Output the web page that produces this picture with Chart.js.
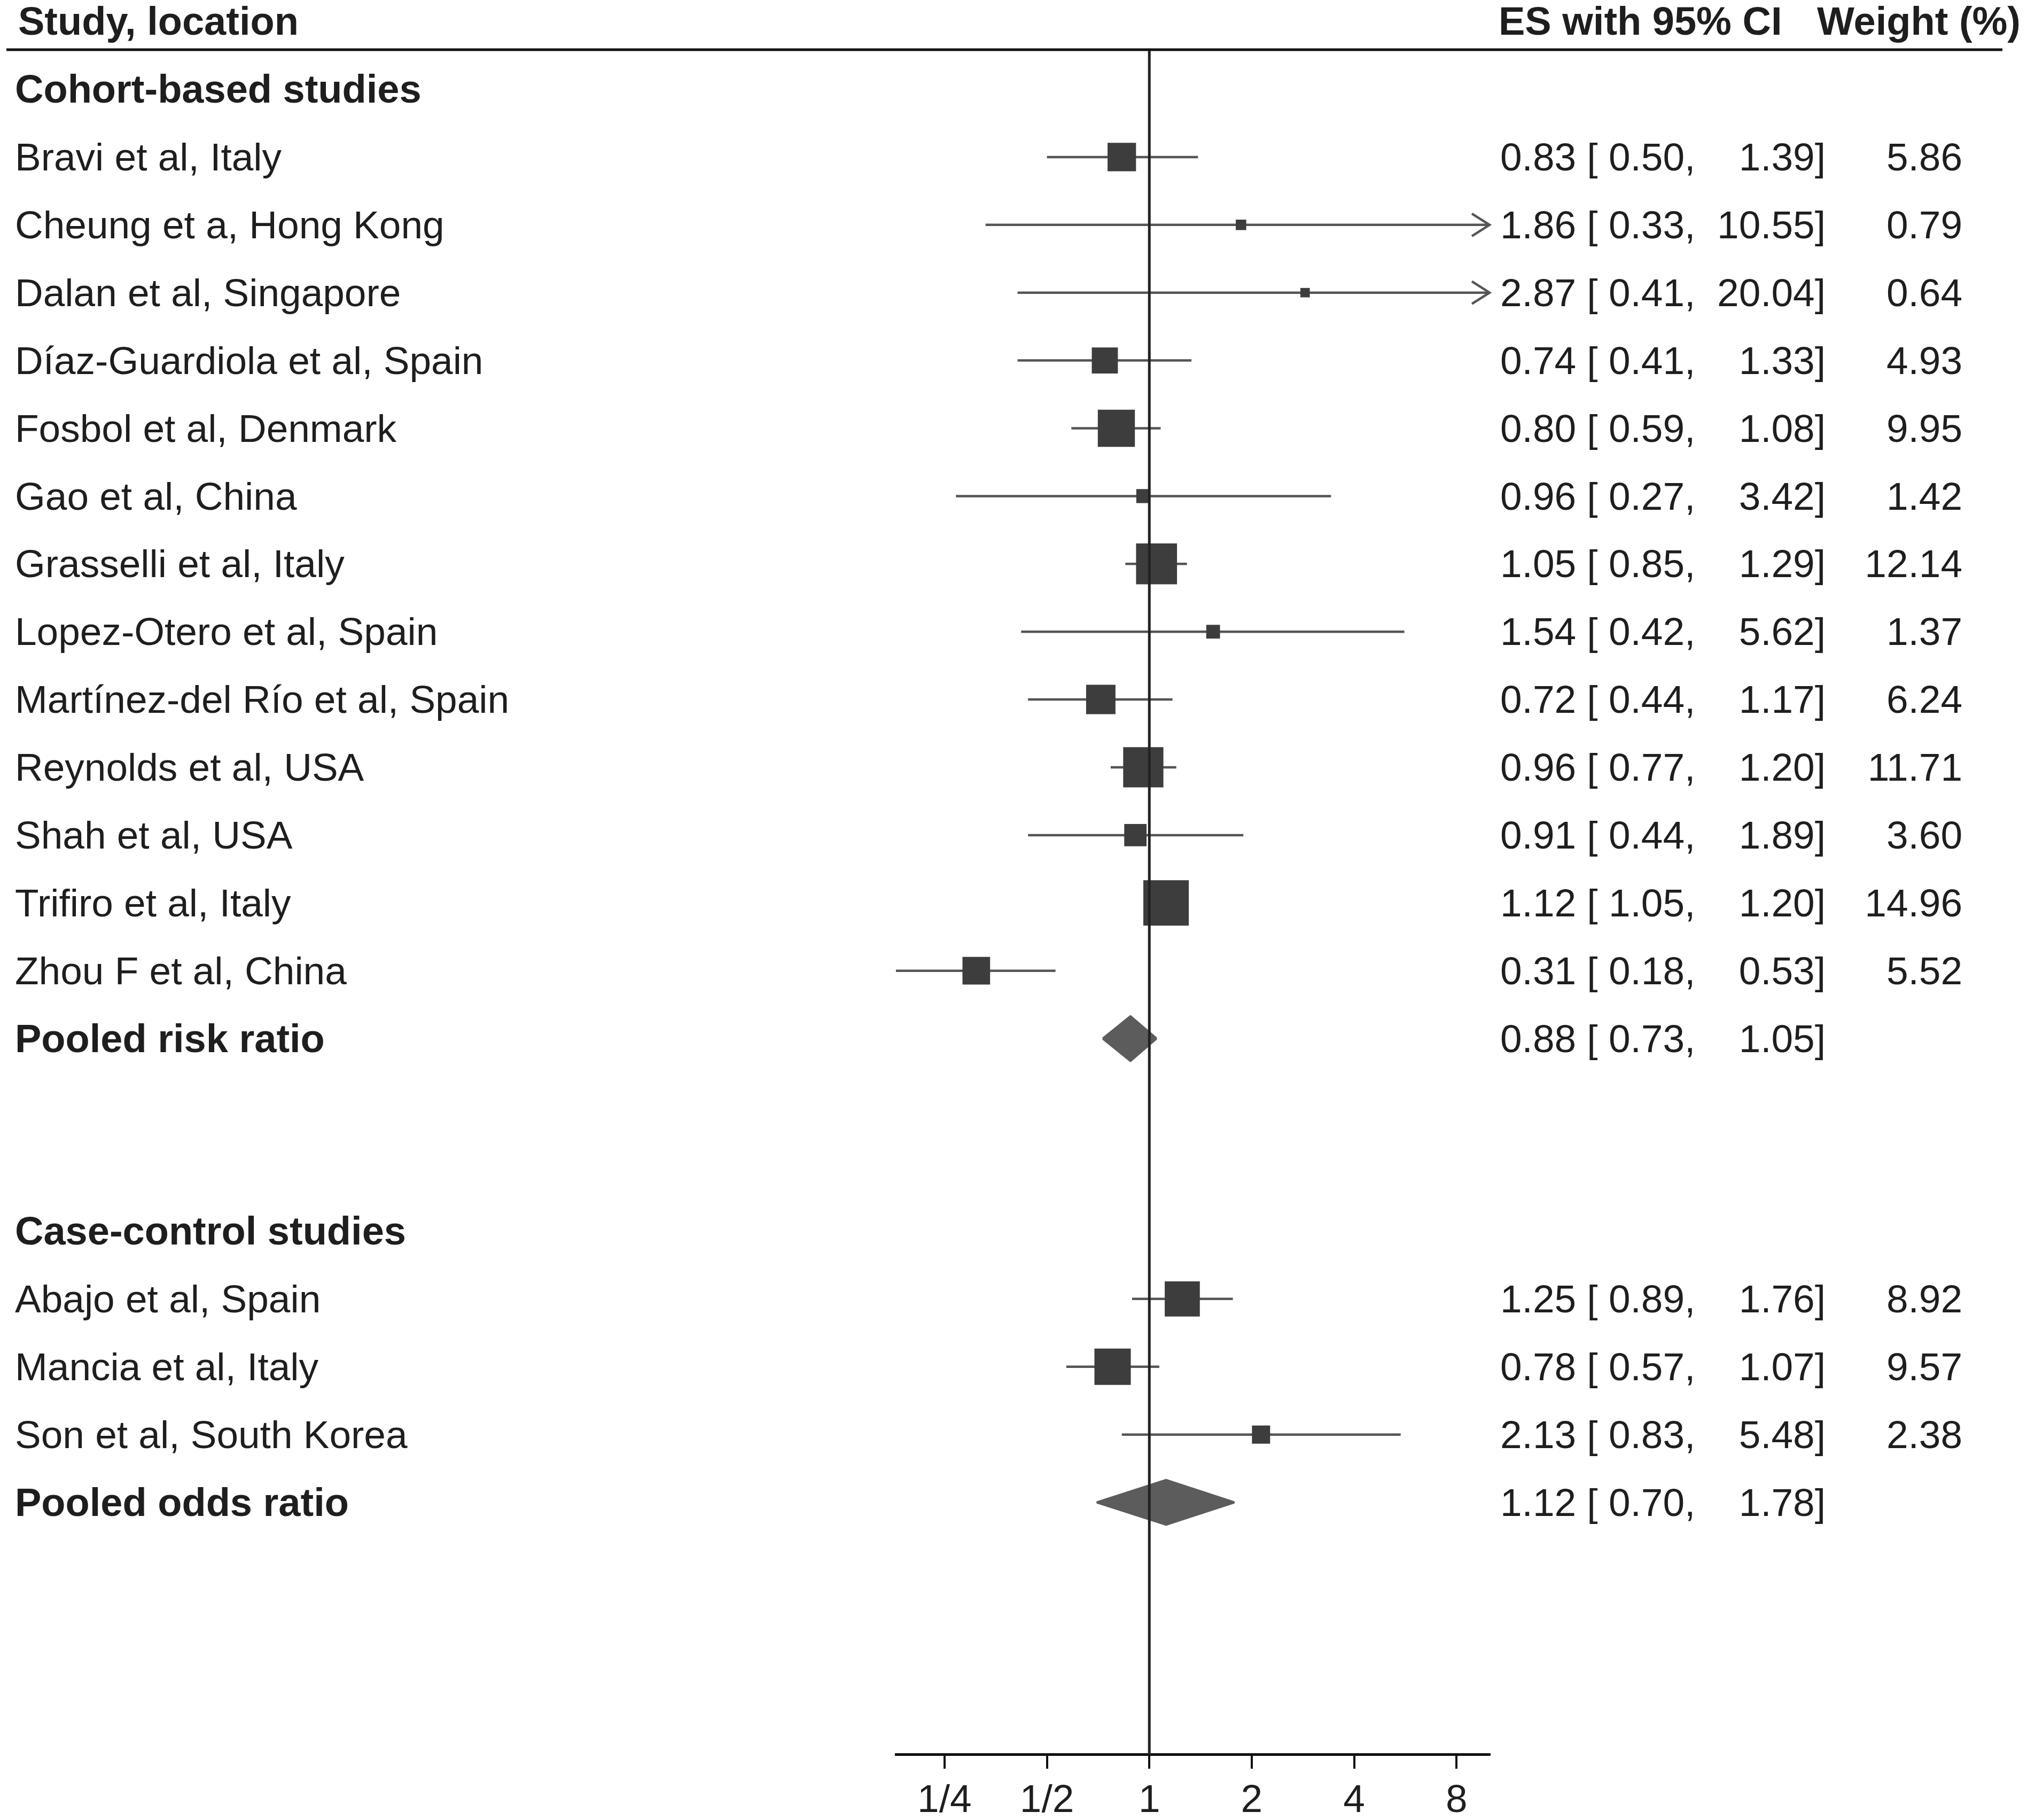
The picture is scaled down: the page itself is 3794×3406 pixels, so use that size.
<!DOCTYPE html>
<html>
<head>
<meta charset="utf-8">
<title>Forest plot</title>
<script src="https://cdn.jsdelivr.net/npm/chart.js@4.4.1/dist/chart.umd.min.js"></script>
<style>
  html, body { margin: 0; padding: 0; background: #fff; }
  canvas { display: block; }
</style>
</head>
<body>
<canvas id="forestChart" width="3794" height="3406"></canvas>
<script>
// Study rows: group 0 = cohort-based, group 1 = case-control
const studyLabels = [
    'Bravi et al, Italy',
    'Cheung et a, Hong Kong',
    'Dalan et al, Singapore',
    'Díaz-Guardiola et al, Spain',
    'Fosbol et al, Denmark',
    'Gao et al, China',
    'Grasselli et al, Italy',
    'Lopez-Otero et al, Spain',
    'Martínez-del Río et al, Spain',
    'Reynolds et al, USA',
    'Shah et al, USA',
    'Trifiro et al, Italy',
    'Zhou F et al, China',
    'Abajo et al, Spain',
    'Mancia et al, Italy',
    'Son et al, South Korea'
];
const studyGroups = [0, 0, 0, 0, 0, 0, 0, 0, 0, 0, 0, 0, 0, 1, 1, 1];
const studyES = [0.83, 1.86, 2.87, 0.74, 0.80, 0.96, 1.05, 1.54, 0.72, 0.96, 0.91, 1.12, 0.31, 1.25, 0.78, 2.13];
const studyLower = [0.50, 0.33, 0.41, 0.41, 0.59, 0.27, 0.85, 0.42, 0.44, 0.77, 0.44, 1.05, 0.18, 0.89, 0.57, 0.83];
const studyUpper = [1.39, 10.55, 20.04, 1.33, 1.08, 3.42, 1.29, 5.62, 1.17, 1.20, 1.89, 1.20, 0.53, 1.76, 1.07, 5.48];
const studyWeights = [5.86, 0.79, 0.64, 4.93, 9.95, 1.42, 12.14, 1.37, 6.24, 11.71, 3.60, 14.96, 5.52, 8.92, 9.57, 2.38];

const groupTitles = ['Cohort-based studies', 'Case-control studies'];
const pooledLabels = ['Pooled risk ratio', 'Pooled odds ratio'];
const pooledES = [0.88, 1.12];
const pooledLower = [0.73, 0.70];
const pooledUpper = [1.05, 1.78];

const tickValues = [0.25, 0.5, 1, 2, 4, 8];
const tickLabels = ['1/4', '1/2', '1', '2', '4', '8'];

// layout constants
const X_MIN = 0.18, X_MAX = 10;
const GROUP_GAP = 2.84;        // rows from a pooled line to the next group title
const ROW_TOP = -0.583;        // header rule
const ROW_BOTTOM = 24.555;     // x axis
const BOX_SCALE = 22;          // box side (px) per sqrt(weight)
const DIAMOND_HALF = 0.33;     // half height of the pooled diamond, in rows
const FONT = '"Liberation Sans", Arial, sans-serif';

// row index of every line in the table
const studyRows = [], titleRows = [], pooledRows = [];
let row = 0;
groupTitles.forEach((title, g) => {
    titleRows.push(row);
    row += 1;
    studyGroups.forEach((sg, i) => {
        if (sg === g) { studyRows[i] = row; row += 1; }
    });
    pooledRows.push(row);
    row += GROUP_GAP;
});

const datasets = [];

// reference line at 1 (drawn on top)
datasets.push({
    type: 'line',
    data: [{ x: 1, y: ROW_TOP }, { x: 1, y: ROW_BOTTOM }],
    borderColor: '#222',
    borderWidth: 5,
    pointRadius: 0,
    order: 0
});

// study boxes, area proportional to weight
datasets.push({
    type: 'scatter',
    data: studyES.map((v, i) => ({ x: v, y: studyRows[i] })),
    pointStyle: 'rect',
    pointRadius: ctx => BOX_SCALE * Math.sqrt(studyWeights[ctx.dataIndex]) / Math.SQRT2,
    backgroundColor: '#3d3d3d',
    borderWidth: 0,
    order: 1
});

// pooled diamonds: upper and lower edges, filled between
pooledES.forEach((v, g) => {
    const r = pooledRows[g];
    const upperIndex = datasets.length;
    datasets.push({
        type: 'line',
        data: [{ x: pooledLower[g], y: r }, { x: v, y: r - DIAMOND_HALF }, { x: pooledUpper[g], y: r }],
        borderColor: '#5c5c5c',
        borderWidth: 4,
        borderJoinStyle: 'round',
        pointRadius: 0,
        fill: false,
        order: 2
    });
    datasets.push({
        type: 'line',
        data: [{ x: pooledLower[g], y: r }, { x: v, y: r + DIAMOND_HALF }, { x: pooledUpper[g], y: r }],
        borderColor: '#5c5c5c',
        backgroundColor: '#5c5c5c',
        borderWidth: 4,
        borderJoinStyle: 'round',
        pointRadius: 0,
        fill: upperIndex,
        order: 2
    });
});

// confidence interval lines (clipped at the axis end)
studyES.forEach((v, i) => {
    datasets.push({
        type: 'line',
        data: [{ x: studyLower[i], y: studyRows[i] }, { x: Math.min(studyUpper[i], X_MAX), y: studyRows[i] }],
        borderColor: '#555',
        borderWidth: 4.5,
        borderCapStyle: 'butt',
        pointRadius: 0,
        order: 3
    });
});

function drawText(ctx, str, x, y, align, bold) {
    ctx.font = (bold ? 'bold 74px ' : '73px ') + FONT;
    ctx.textAlign = align;
    ctx.textBaseline = 'middle';
    ctx.fillStyle = '#1e1e1e';
    ctx.fillText(str, x, y + 5);
}

// table text, header rule and arrows for clipped intervals
const tablePlugin = {
    id: 'forestTable',
    beforeDraw(chart) {
        const ctx = chart.ctx;
        ctx.save();
        ctx.fillStyle = '#fff';
        ctx.fillRect(0, 0, chart.width, chart.height);
        ctx.restore();
    },
    afterDatasetsDraw(chart) {
        const ctx = chart.ctx;
        const xs = chart.scales.x, ys = chart.scales.y;
        ctx.save();
        ctx.strokeStyle = '#555';
        ctx.lineWidth = 4.5;
        studyUpper.forEach((hi, i) => {
            if (hi <= X_MAX) return;
            const tip = xs.getPixelForValue(X_MAX);
            const y = ys.getPixelForValue(studyRows[i]);
            ctx.beginPath();
            ctx.moveTo(tip - 33, y - 21);
            ctx.lineTo(tip, y);
            ctx.lineTo(tip - 33, y + 21);
            ctx.stroke();
        });
        ctx.restore();
    },
    afterDraw(chart) {
        const ctx = chart.ctx;
        const ys = chart.scales.y;
        const esX = 2808, upperX = 3417, weightX = 3673;
        ctx.save();

        // header
        const hy = ys.getPixelForValue(-1);
        drawText(ctx, 'Study, location', 34, hy, 'left', true);
        drawText(ctx, 'ES with 95% CI', 2805, hy, 'left', true);
        drawText(ctx, 'Weight (%)', 3782, hy, 'right', true);
        ctx.strokeStyle = '#111';
        ctx.lineWidth = 5;
        ctx.beginPath();
        const ry = ys.getPixelForValue(ROW_TOP);
        ctx.moveTo(12, ry);
        ctx.lineTo(3748, ry);
        ctx.stroke();

        groupTitles.forEach((t, g) => {
            drawText(ctx, t, 28, ys.getPixelForValue(titleRows[g]), 'left', true);
        });

        studyLabels.forEach((label, i) => {
            const y = ys.getPixelForValue(studyRows[i]);
            drawText(ctx, label, 28, y, 'left', false);
            drawText(ctx, studyES[i].toFixed(2) + ' [ ' + studyLower[i].toFixed(2) + ',', esX, y, 'left', false);
            drawText(ctx, studyUpper[i].toFixed(2) + ']', upperX, y, 'right', false);
            drawText(ctx, studyWeights[i].toFixed(2), weightX, y, 'right', false);
        });

        pooledLabels.forEach((label, g) => {
            const y = ys.getPixelForValue(pooledRows[g]);
            drawText(ctx, label, 28, y, 'left', true);
            drawText(ctx, pooledES[g].toFixed(2) + ' [ ' + pooledLower[g].toFixed(2) + ',', esX, y, 'left', false);
            drawText(ctx, pooledUpper[g].toFixed(2) + ']', upperX, y, 'right', false);
        });

        ctx.restore();
    }
};

new Chart(document.getElementById('forestChart'), {
    type: 'scatter',
    data: { datasets: datasets },
    options: {
        responsive: false,
        animation: false,
        devicePixelRatio: 1,
        events: [],
        layout: { padding: { left: 1677, right: 1006, top: 93, bottom: 0 } },
        plugins: {
            legend: { display: false },
            tooltip: { enabled: false }
        },
        scales: {
            x: {
                type: 'logarithmic',
                min: X_MIN,
                max: X_MAX,
                bounds: 'data',
                afterBuildTicks: scale => { scale.ticks = tickValues.map(v => ({ value: v })); },
                afterFit: scale => { scale.height = 123; },
                ticks: {
                    autoSkip: false,
                    maxRotation: 0,
                    padding: 17,
                    color: '#1e1e1e',
                    font: { family: FONT, size: 73 },
                    callback: (value, index) => tickLabels[index]
                },
                grid: { drawOnChartArea: false, drawTicks: true, tickLength: 27, lineWidth: 4, color: '#111' },
                border: { display: true, width: 5, color: '#111' }
            },
            y: {
                type: 'linear',
                display: false,
                reverse: true,
                min: ROW_TOP,
                max: ROW_BOTTOM
            }
        }
    },
    plugins: [tablePlugin]
});
</script>
</body>
</html>
